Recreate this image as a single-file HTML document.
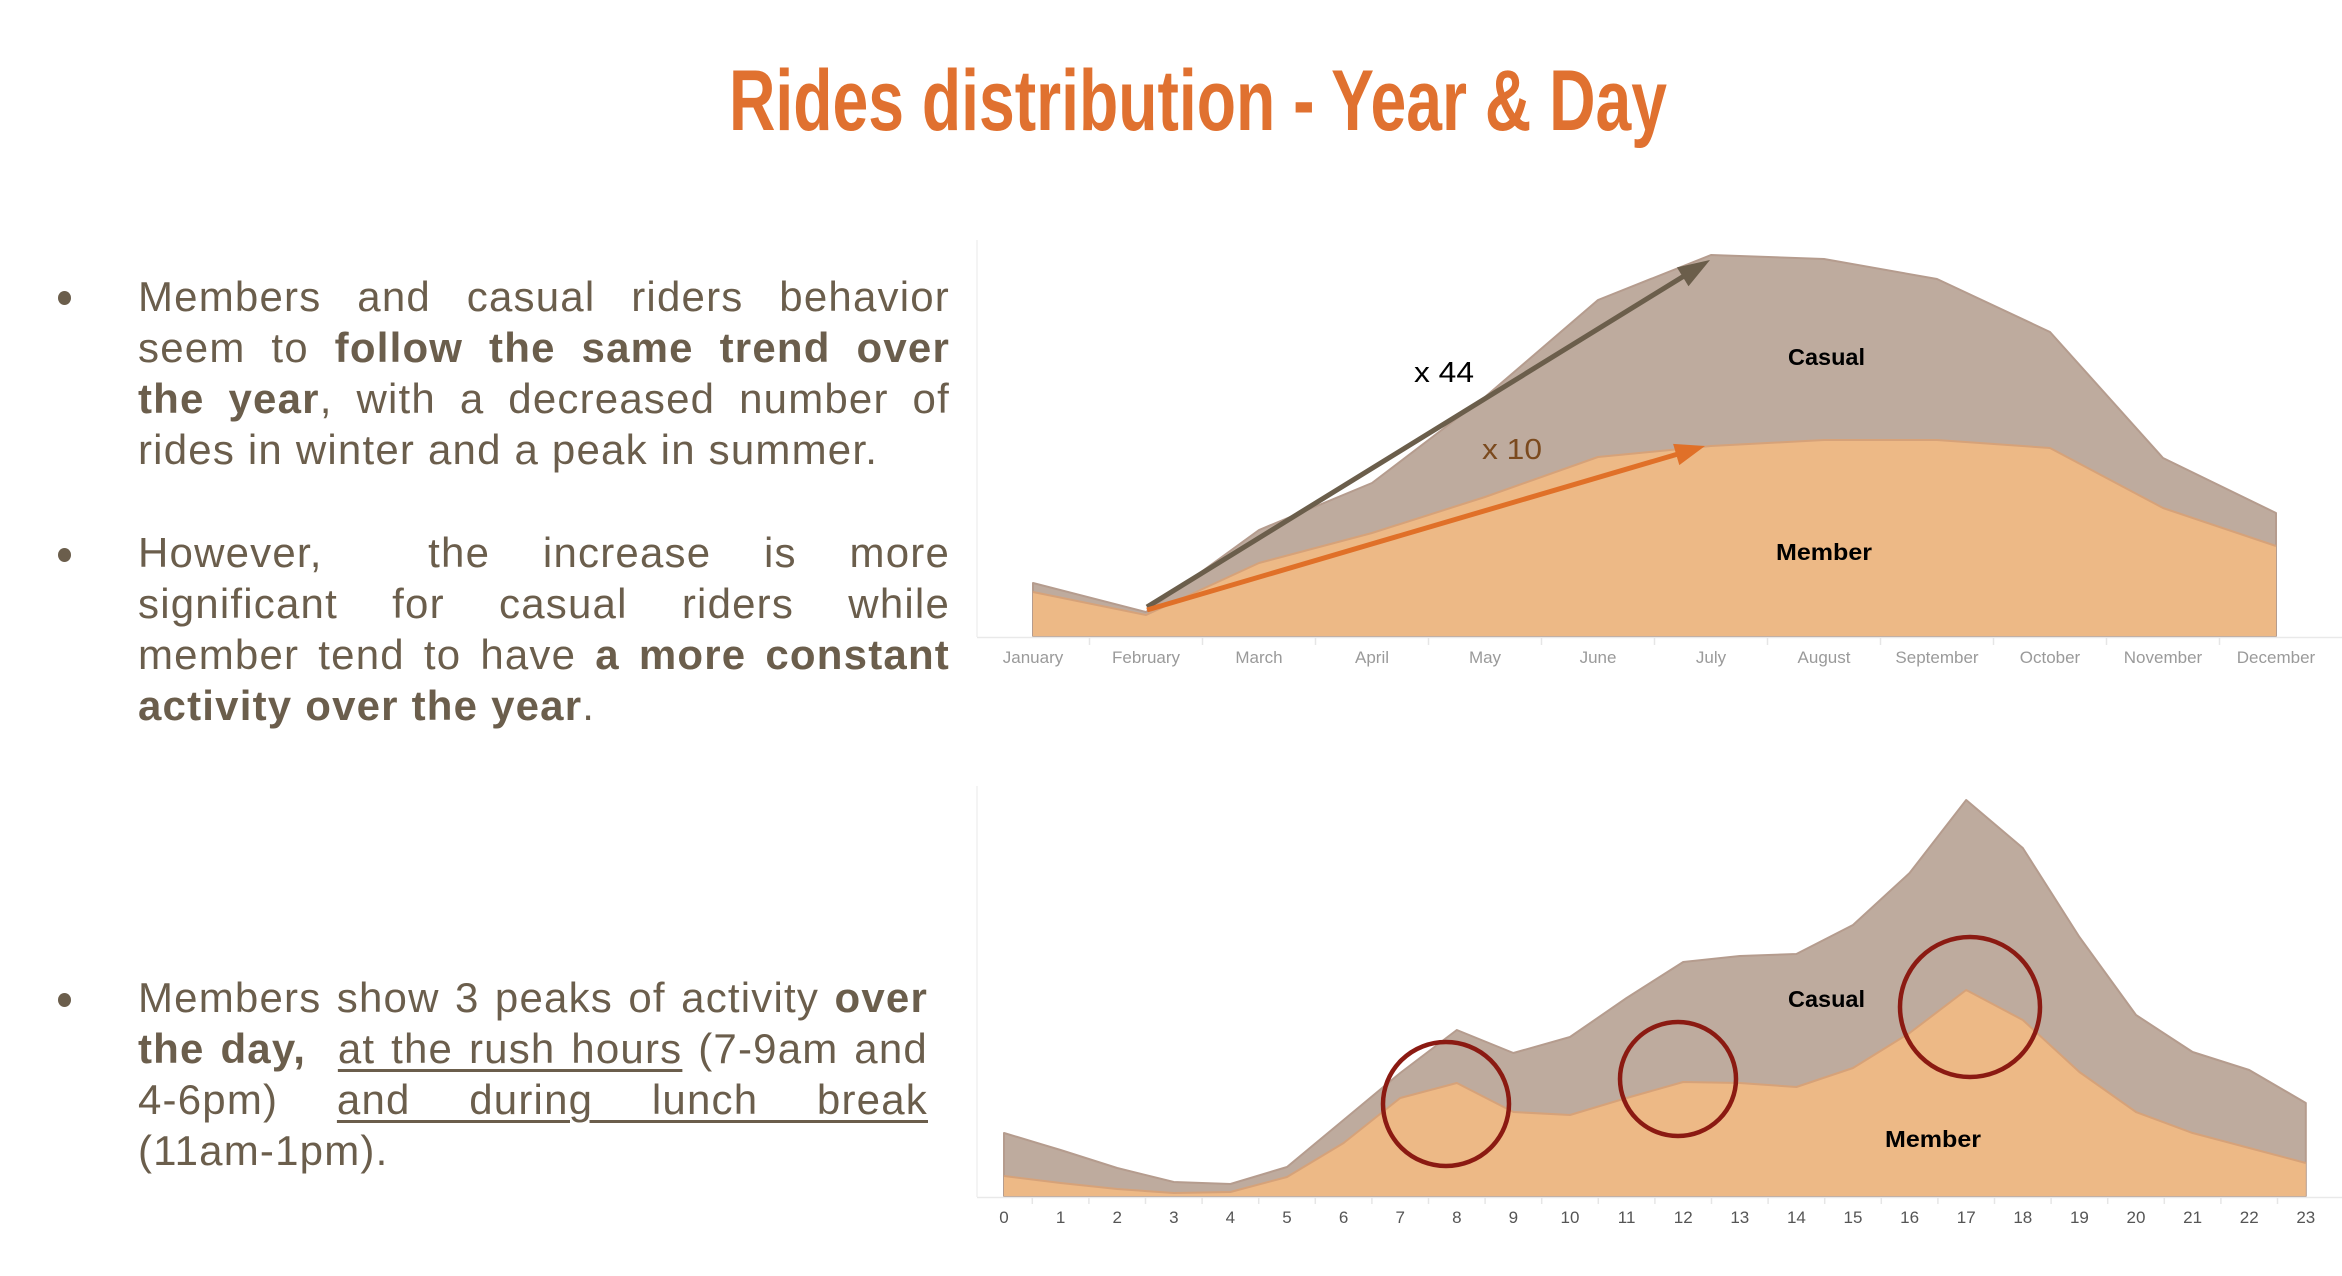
<!DOCTYPE html>
<html>
<head>
<meta charset="utf-8">
<style>
  html, body { margin:0; padding:0; background:#fff; }
  body { width:2342px; height:1276px; position:relative; overflow:hidden; }
  svg.main { position:absolute; left:0; top:0; }
  .blk { position:absolute; left:138px; font-family:"Liberation Sans", Arial, sans-serif; font-size:42px; color:#6B5E4C; letter-spacing:1.2px; }
  .ln { height:51px; line-height:51px; white-space:normal; }
  .j { text-align:justify; text-align-last:justify; }
  .l { text-align:left; }
  .blk b { font-weight:bold; }
  .blk u { text-decoration:underline; text-decoration-thickness:3px; text-underline-offset:6px; }
  .dot { position:absolute; width:13px; height:14px; border-radius:50%; background:#6B5E4C; }
</style>
</head>
<body>
<svg class="main" width="2342" height="1276" viewBox="0 0 2342 1276" xmlns="http://www.w3.org/2000/svg">
  <!-- Title -->
  <text x="729" y="130" font-family="Liberation Sans, Arial, sans-serif" font-weight="bold" font-size="86" fill="#E07130" textLength="938" lengthAdjust="spacingAndGlyphs">Rides distribution - Year &amp; Day</text>

  <!-- ===== Top chart ===== -->
  <line x1="977" y1="240" x2="977" y2="637" stroke="#f1f1f1" stroke-width="1.5"/>
  <polygon fill="#BEAB9E" stroke="#B59C8E" stroke-width="2" stroke-linejoin="round"
    points="1033,636 1033,583 1146,612 1259,530 1372,483 1485,397 1598,300 1711,255 1824,259 1937,279 2050,332 2163,458 2276,513 2276,636"/>
  <polygon fill="#EDB986" stroke="none"
    points="1033,636 1033,592 1146,615 1259,563 1372,533 1485,497 1598,457 1711,446 1824,440 1937,440 2050,448 2163,508 2276,546 2276,636"/>
  <polyline fill="none" stroke="#D6A279" stroke-width="2" stroke-linejoin="round"
    points="1033,592 1146,615 1259,563 1372,533 1485,497 1598,457 1711,446 1824,440 1937,440 2050,448 2163,508 2276,546"/>
  <line x1="977" y1="637.5" x2="2342" y2="637.5" stroke="#e9e9e9" stroke-width="1.5"/>
  <g stroke="#e6e6e6" stroke-width="1.5">
    <line x1="1089.5" y1="638" x2="1089.5" y2="645"/>
    <line x1="1202.5" y1="638" x2="1202.5" y2="645"/>
    <line x1="1315.5" y1="638" x2="1315.5" y2="645"/>
    <line x1="1428.5" y1="638" x2="1428.5" y2="645"/>
    <line x1="1541.5" y1="638" x2="1541.5" y2="645"/>
    <line x1="1654.5" y1="638" x2="1654.5" y2="645"/>
    <line x1="1767.5" y1="638" x2="1767.5" y2="645"/>
    <line x1="1880.5" y1="638" x2="1880.5" y2="645"/>
    <line x1="1993.5" y1="638" x2="1993.5" y2="645"/>
    <line x1="2106.5" y1="638" x2="2106.5" y2="645"/>
    <line x1="2219.5" y1="638" x2="2219.5" y2="645"/>
  </g>
  <g font-family="Liberation Sans, Arial, sans-serif" font-size="17" fill="#9a9a9a" text-anchor="middle">
    <text x="1033" y="663">January</text>
    <text x="1146" y="663">February</text>
    <text x="1259" y="663">March</text>
    <text x="1372" y="663">April</text>
    <text x="1485" y="663">May</text>
    <text x="1598" y="663">June</text>
    <text x="1711" y="663">July</text>
    <text x="1824" y="663">August</text>
    <text x="1937" y="663">September</text>
    <text x="2050" y="663">October</text>
    <text x="2163" y="663">November</text>
    <text x="2276" y="663">December</text>
  </g>
  <!-- arrows -->
  <line x1="1147" y1="607" x2="1684" y2="276" stroke="#6B5E4B" stroke-width="5"/>
  <polygon fill="#6B5E4B" points="1710,260 1688.5,286.2 1676.9,267.4"/>
  <line x1="1147" y1="610" x2="1678" y2="454" stroke="#E07028" stroke-width="5"/>
  <polygon fill="#E07028" points="1705,446 1679.3,465.1 1673.1,443.9"/>
  <text x="1414" y="382" font-family="Liberation Sans, Arial, sans-serif" font-size="29" fill="#000" textLength="60" lengthAdjust="spacingAndGlyphs">x 44</text>
  <text x="1482" y="459" font-family="Liberation Sans, Arial, sans-serif" font-size="29" fill="#7B4A1E" textLength="60" lengthAdjust="spacingAndGlyphs">x 10</text>
  <text x="1788" y="365" font-family="Liberation Sans, Arial, sans-serif" font-weight="bold" font-size="23" fill="#000" textLength="77" lengthAdjust="spacingAndGlyphs">Casual</text>
  <text x="1776" y="560" font-family="Liberation Sans, Arial, sans-serif" font-weight="bold" font-size="23" fill="#000" textLength="96" lengthAdjust="spacingAndGlyphs">Member</text>

  <!-- ===== Bottom chart ===== -->
  <line x1="977" y1="786" x2="977" y2="1197" stroke="#f1f1f1" stroke-width="1.5"/>
  <polygon fill="#BEAB9E" stroke="#B59C8E" stroke-width="2" stroke-linejoin="round"
    points="1004,1196 1004,1133 1060.6,1150 1117.2,1168 1173.8,1182 1230.4,1184 1287,1167 1343.6,1120 1400.2,1073 1456.8,1030 1513.4,1053 1570,1037 1626.6,998 1683.2,962 1739.8,956 1796.4,954 1853,925 1909.6,873 1966.2,800 2022.8,848 2079.4,937 2136,1015 2192.6,1052 2249.2,1070 2305.8,1103 2305.8,1196"/>
  <polygon fill="#EDB986" stroke="none"
    points="1004,1196 1004,1176 1060.6,1183 1117.2,1189 1173.8,1193 1230.4,1192 1287,1177 1343.6,1143 1400.2,1098 1456.8,1083 1513.4,1112 1570,1115 1626.6,1098 1683.2,1082 1739.8,1083 1796.4,1087 1853,1068 1909.6,1033 1966.2,990 2022.8,1020 2079.4,1072 2136,1112 2192.6,1133 2249.2,1148 2305.8,1163 2305.8,1196"/>
  <polyline fill="none" stroke="#D6A279" stroke-width="2" stroke-linejoin="round"
    points="1004,1176 1060.6,1183 1117.2,1189 1173.8,1193 1230.4,1192 1287,1177 1343.6,1143 1400.2,1098 1456.8,1083 1513.4,1112 1570,1115 1626.6,1098 1683.2,1082 1739.8,1083 1796.4,1087 1853,1068 1909.6,1033 1966.2,990 2022.8,1020 2079.4,1072 2136,1112 2192.6,1133 2249.2,1148 2305.8,1163"/>
  <line x1="977" y1="1197.5" x2="2342" y2="1197.5" stroke="#e9e9e9" stroke-width="1.5"/>
  <g stroke="#e6e6e6" stroke-width="1.5">
    <line x1="1032.3" y1="1198" x2="1032.3" y2="1204"/>
    <line x1="1088.9" y1="1198" x2="1088.9" y2="1204"/>
    <line x1="1145.5" y1="1198" x2="1145.5" y2="1204"/>
    <line x1="1202.1" y1="1198" x2="1202.1" y2="1204"/>
    <line x1="1258.7" y1="1198" x2="1258.7" y2="1204"/>
    <line x1="1315.3" y1="1198" x2="1315.3" y2="1204"/>
    <line x1="1371.9" y1="1198" x2="1371.9" y2="1204"/>
    <line x1="1428.5" y1="1198" x2="1428.5" y2="1204"/>
    <line x1="1485.1" y1="1198" x2="1485.1" y2="1204"/>
    <line x1="1541.7" y1="1198" x2="1541.7" y2="1204"/>
    <line x1="1598.3" y1="1198" x2="1598.3" y2="1204"/>
    <line x1="1654.9" y1="1198" x2="1654.9" y2="1204"/>
    <line x1="1711.5" y1="1198" x2="1711.5" y2="1204"/>
    <line x1="1768.1" y1="1198" x2="1768.1" y2="1204"/>
    <line x1="1824.7" y1="1198" x2="1824.7" y2="1204"/>
    <line x1="1881.3" y1="1198" x2="1881.3" y2="1204"/>
    <line x1="1937.9" y1="1198" x2="1937.9" y2="1204"/>
    <line x1="1994.5" y1="1198" x2="1994.5" y2="1204"/>
    <line x1="2051.1" y1="1198" x2="2051.1" y2="1204"/>
    <line x1="2107.7" y1="1198" x2="2107.7" y2="1204"/>
    <line x1="2164.3" y1="1198" x2="2164.3" y2="1204"/>
    <line x1="2220.9" y1="1198" x2="2220.9" y2="1204"/>
    <line x1="2277.5" y1="1198" x2="2277.5" y2="1204"/>
  </g>
  <g font-family="Liberation Sans, Arial, sans-serif" font-size="17" fill="#555" text-anchor="middle">
    <text x="1004" y="1223">0</text>
    <text x="1060.6" y="1223">1</text>
    <text x="1117.2" y="1223">2</text>
    <text x="1173.8" y="1223">3</text>
    <text x="1230.4" y="1223">4</text>
    <text x="1287" y="1223">5</text>
    <text x="1343.6" y="1223">6</text>
    <text x="1400.2" y="1223">7</text>
    <text x="1456.8" y="1223">8</text>
    <text x="1513.4" y="1223">9</text>
    <text x="1570" y="1223">10</text>
    <text x="1626.6" y="1223">11</text>
    <text x="1683.2" y="1223">12</text>
    <text x="1739.8" y="1223">13</text>
    <text x="1796.4" y="1223">14</text>
    <text x="1853" y="1223">15</text>
    <text x="1909.6" y="1223">16</text>
    <text x="1966.2" y="1223">17</text>
    <text x="2022.8" y="1223">18</text>
    <text x="2079.4" y="1223">19</text>
    <text x="2136" y="1223">20</text>
    <text x="2192.6" y="1223">21</text>
    <text x="2249.2" y="1223">22</text>
    <text x="2305.8" y="1223">23</text>
  </g>
  <text x="1788" y="1007" font-family="Liberation Sans, Arial, sans-serif" font-weight="bold" font-size="23" fill="#000" textLength="77" lengthAdjust="spacingAndGlyphs">Casual</text>
  <text x="1885" y="1147" font-family="Liberation Sans, Arial, sans-serif" font-weight="bold" font-size="23" fill="#000" textLength="96" lengthAdjust="spacingAndGlyphs">Member</text>
  <!-- circles -->
  <g fill="none" stroke="#8B1A12" stroke-width="4.5">
    <ellipse cx="1446" cy="1104" rx="63" ry="62"/>
    <ellipse cx="1678" cy="1079" rx="58" ry="57"/>
    <ellipse cx="1970" cy="1007" rx="70" ry="70"/>
  </g>
</svg>

<!-- Bullets -->
<div class="dot" style="left:58px; top:291px;"></div>
<div class="dot" style="left:58px; top:548px;"></div>
<div class="dot" style="left:58px; top:993px;"></div>

<div class="blk" style="top:271px; width:812px;">
  <div class="ln j">Members and casual riders behavior</div>
  <div class="ln j">seem to <b>follow the same trend over</b></div>
  <div class="ln j"><b>the year</b>, with a decreased number of</div>
  <div class="ln l">rides in winter and a peak in summer.</div>
</div>

<div class="blk" style="top:527px; width:812px;">
  <div class="ln j">However,&nbsp; the increase is more</div>
  <div class="ln j">significant for casual riders while</div>
  <div class="ln j">member tend to have <b>a more constant</b></div>
  <div class="ln l"><b>activity over the year</b>.</div>
</div>

<div class="blk" style="top:972px; width:790px;">
  <div class="ln j">Members show 3 peaks of activity <b>over</b></div>
  <div class="ln j"><b>the day,</b>&nbsp; <u>at the rush hours</u> (7-9am and</div>
  <div class="ln j">4-6pm) <u>and during lunch break</u></div>
  <div class="ln l">(11am-1pm).</div>
</div>
</body>
</html>
